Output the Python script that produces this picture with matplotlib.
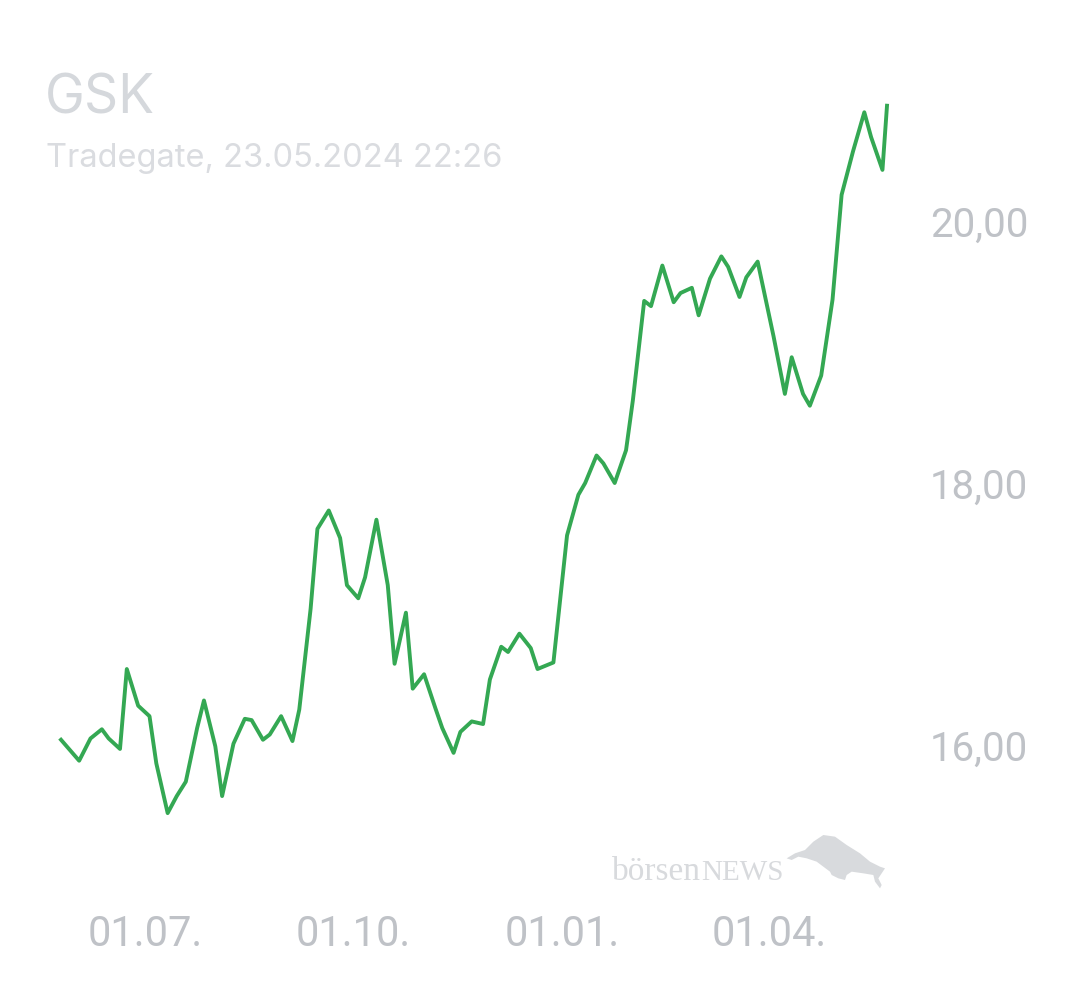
import matplotlib
matplotlib.use("Agg")
import matplotlib.pyplot as plt
from matplotlib.patches import Polygon
import numpy as np
import pandas as pd

# GSK price, Tradegate
dates = [
    "2023-05-25", "2023-06-02", "2023-06-07", "2023-06-12", "2023-06-15", "2023-06-20",
    "2023-06-23", "2023-06-28", "2023-07-03", "2023-07-06", "2023-07-11", "2023-07-15",
    "2023-07-19", "2023-07-24", "2023-07-27", "2023-08-01", "2023-08-04", "2023-08-09",
    "2023-08-14", "2023-08-17", "2023-08-22", "2023-08-25", "2023-08-30", "2023-09-04",
    "2023-09-07", "2023-09-12", "2023-09-15", "2023-09-20", "2023-09-25", "2023-09-28",
    "2023-10-03", "2023-10-06", "2023-10-11", "2023-10-16", "2023-10-19", "2023-10-24",
    "2023-10-27", "2023-11-01", "2023-11-06", "2023-11-09", "2023-11-14", "2023-11-17",
    "2023-11-22", "2023-11-27", "2023-11-30", "2023-12-05", "2023-12-08", "2023-12-13",
    "2023-12-18", "2023-12-21", "2023-12-28", "2024-01-03", "2024-01-08", "2024-01-11",
    "2024-01-16", "2024-01-19", "2024-01-24", "2024-01-29", "2024-02-01", "2024-02-06",
    "2024-02-09", "2024-02-14", "2024-02-19", "2024-02-22", "2024-02-27", "2024-03-01",
    "2024-03-06", "2024-03-11", "2024-03-14", "2024-03-19", "2024-03-22", "2024-03-27",
    "2024-04-03", "2024-04-08", "2024-04-11", "2024-04-16", "2024-04-19", "2024-04-24",
    "2024-04-29", "2024-05-03", "2024-05-08", "2024-05-13", "2024-05-16", "2024-05-21",
    "2024-05-23",
]
prices = [
    16.04, 15.88, 16.05, 16.12, 16.05, 15.97,
    16.58, 16.30, 16.22, 15.86, 15.48, 15.61,
    15.72, 16.13, 16.34, 15.99, 15.61, 16.01,
    16.20, 16.19, 16.04, 16.08, 16.22, 16.03,
    16.27, 17.04, 17.65, 17.79, 17.58, 17.22,
    17.12, 17.28, 17.72, 17.22, 16.62, 17.01,
    16.43, 16.54, 16.28, 16.13, 15.94, 16.10,
    16.18, 16.16, 16.50, 16.75, 16.71, 16.85,
    16.74, 16.58, 16.63, 17.60, 17.91, 18.00,
    18.21, 18.15, 18.00, 18.25, 18.63, 19.39,
    19.35, 19.66, 19.38, 19.45, 19.49, 19.28,
    19.56, 19.73, 19.65, 19.42, 19.57, 19.69,
    19.12, 18.68, 18.96, 18.68, 18.59, 18.82,
    19.40, 20.20, 20.53, 20.83, 20.64, 20.39,
    20.88,
]
x_ticks = ["2023-07-01", "2023-10-01", "2024-01-01", "2024-04-01"]
x_labels = ["01.07.", "01.10.", "01.01.", "01.04."]
y_ticks = [16, 18, 20]
y_labels = ["16,00", "18,00", "20,00"]

title = "GSK"
subtitle = "Tradegate, 23.05.2024 22:26"

W, H = 1080, 990
fig = plt.figure(figsize=(W / 100, H / 100), dpi=100)
fig.patch.set_facecolor("white")

# axes placed in pixel terms
left, right, top, bottom = 61, 887, 90, 836.7
ax = fig.add_axes([left / W, 1 - bottom / H, (right - left) / W, (bottom - top) / H])
ax.set_facecolor("none")

d = pd.to_datetime(dates)
ax.plot(d, prices, color="#34a853", lw=2.8, clip_on=False)
ax.set_xlim(d[0], d[-1])
ax.set_ylim(15.3, 21.0)

for s in ax.spines.values():
    s.set_visible(False)

tick_color = "#bfc2c7"
ax.set_xticks(pd.to_datetime(x_ticks))
ax.set_xticklabels(x_labels, fontfamily="Roboto", fontsize=30, color=tick_color)
ax.yaxis.tick_right()
ax.set_yticks(y_ticks)
ax.set_yticklabels(y_labels, fontfamily="Roboto", fontsize=29, color=tick_color)
ax.tick_params(axis="x", length=0, pad=56)
ax.tick_params(axis="y", length=0, pad=31)

# title block
fig.text(45 / W, 1 - 114 / H, title, fontfamily="Inter", fontsize=38.5,
         color="#d5d8dc", va="baseline", ha="left")
fig.text(46 / W, 1 - 167 / H, subtitle, fontfamily="Inter", fontsize=23.5,
         color="#dadce0", va="baseline", ha="left")

# watermark
wm = "#d8dadd"
fig.text(612 / W, 1 - 880 / H, "börsen", fontfamily="Liberation Serif", fontsize=24,
         color=wm, va="baseline", ha="left")
fig.text(701 / W, 1 - 880 / H, "NEWS", fontfamily="Liberation Serif", fontsize=21,
         color=wm, va="baseline", ha="left")
bull = np.array([
    (20, 100), (45, 85), (75, 75), (100, 50), (130, 30), (165, 35), (200, 60),
    (240, 85), (270, 110), (300, 125), (315, 130), (305, 145), (295, 160),
    (305, 180), (300, 190), (285, 170), (280, 150), (250, 145), (215, 140),
    (200, 150), (195, 165), (175, 160), (155, 150), (150, 140), (130, 125),
    (110, 110), (80, 100), (55, 95), (35, 105),
], dtype=float)
bx = (780 + bull[:, 0] / 3) / W
by = 1 - (825 + bull[:, 1] / 3) / H
fig.patches.append(Polygon(np.column_stack([bx, by]), closed=True, transform=fig.transFigure,
                           facecolor=wm, edgecolor="none"))

fig.savefig("out.png", dpi=100, facecolor="white")
